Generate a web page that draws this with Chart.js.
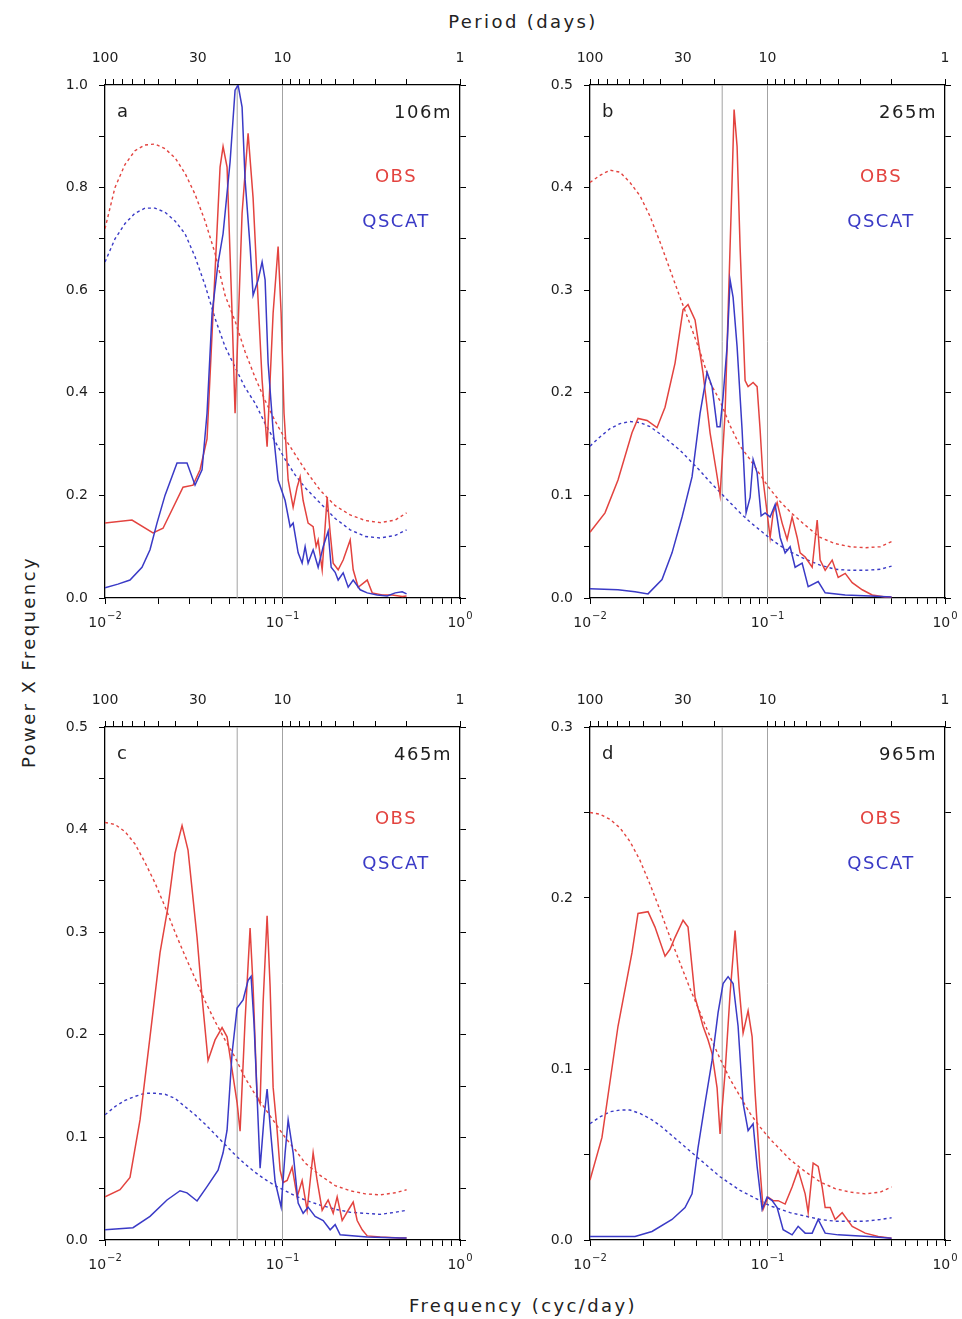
<!DOCTYPE html>
<html>
<head>
<meta charset="utf-8">
<title>Power X Frequency spectra</title>
<script src="https://cdn.jsdelivr.net/npm/chart.js@4.4.1/dist/chart.umd.min.js"></script>
<style>
  html, body { margin: 0; padding: 0; background: #fff; width: 962px; height: 1319px; overflow: hidden; }
  body { position: relative; }
  canvas { position: absolute; }
  .title {
    position: absolute; font-family: "DejaVu Sans", "Liberation Sans", sans-serif;
    font-size: 18px; letter-spacing: 2.4px; color: #222; white-space: nowrap;
    transform: translate(-50%, -50%);
  }
  #ylab { transform: translate(-50%, -50%) rotate(-90deg); }
</style>
</head>
<body>
<div class="title" style="left:523px; top:21px;">Period (days)</div>
<div class="title" style="left:523px; top:1305px;">Frequency (cyc/day)</div>
<div class="title" id="ylab" style="left:28px; top:662px;">Power X Frequency</div>

<script>
// ---- axis ticks -------------------------------------------------------------
const FREQ_TICKS = [0.01,0.02,0.03,0.04,0.05,0.06,0.07,0.08,0.09,
                    0.1,0.2,0.3,0.4,0.5,0.6,0.7,0.8,0.9,1];
const FREQ_LABEL_VALUES = [0.01, 0.1, 1];
const FREQ_LABEL_EXP    = ['\u22122', '\u22121', '0'];   // powers of ten
const PERIOD_TICKS  = [100,90,80,70,60,50,40,30,20,10,9,8,7,6,5,4,3,2,1];
const PERIOD_LABELS = [100, 30, 10, 1];
const MARK_PERIODS  = [18, 10];   // reference periods (days) shown as thin vertical lines

// ---- significance curves (dashed), shared frequency grid -------------------
const SIG_FREQ = [0.01,0.01138,0.01296,0.01476,0.0168,0.01913,0.02178,0.0248,0.02824,0.03216,
                  0.03661,0.04169,0.04747,0.05405,0.06155,0.07008,0.0798,0.09086,0.10345,0.1178,
                  0.1341,0.163,0.198,0.2406,0.2924,0.3552,0.4316,0.5];
const SIG_OBS_A = [0.72,0.80,0.845,0.872,0.883,0.885,0.876,0.858,0.828,0.787,0.735,0.672,0.59,0.54,
                   0.48,0.43,0.385,0.345,0.31,0.28,0.25,0.21,0.18,0.162,0.151,0.147,0.152,0.166];
const SIG_QS_A  = [0.655,0.70,0.73,0.75,0.76,0.76,0.752,0.735,0.71,0.665,0.61,0.545,0.49,0.45,
                   0.41,0.38,0.34,0.305,0.27,0.24,0.215,0.185,0.155,0.133,0.12,0.117,0.122,0.133];
const SIG_OBS_B = [0.405,0.412,0.417,0.415,0.405,0.392,0.372,0.347,0.32,0.293,0.267,0.24,0.21,0.192,
                   0.168,0.148,0.135,0.12,0.106,0.094,0.084,0.071,0.059,0.053,0.05,0.049,0.05,0.055];
const SIG_QS_B  = [0.148,0.157,0.165,0.17,0.172,0.171,0.167,0.16,0.152,0.144,0.134,0.124,0.113,0.103,
                   0.093,0.083,0.074,0.066,0.058,0.051,0.045,0.038,0.032,0.028,0.027,0.027,0.028,0.031];
const SIG_OBS_C = [0.407,0.405,0.398,0.386,0.368,0.348,0.325,0.30,0.277,0.255,0.233,0.213,0.195,0.178,
                   0.158,0.142,0.128,0.114,0.10,0.088,0.075,0.063,0.053,0.048,0.045,0.044,0.046,0.049];
const SIG_QS_C  = [0.122,0.13,0.136,0.14,0.143,0.143,0.142,0.138,0.13,0.122,0.113,0.103,0.093,0.083,
                   0.074,0.066,0.059,0.053,0.048,0.043,0.039,0.034,0.03,0.027,0.026,0.025,0.027,0.029];
const SIG_OBS_D = [0.25,0.249,0.246,0.241,0.233,0.222,0.208,0.193,0.177,0.162,0.147,0.133,0.119,0.106,
                   0.094,0.084,0.074,0.066,0.059,0.053,0.047,0.04,0.034,0.03,0.028,0.027,0.028,0.031];
const SIG_QS_D  = [0.068,0.072,0.075,0.076,0.076,0.074,0.071,0.067,0.062,0.057,0.052,0.047,0.042,0.037,
                   0.033,0.029,0.026,0.023,0.02,0.018,0.016,0.014,0.012,0.011,0.011,0.011,0.012,0.013];

// ---- spectra: (a) 106 m ----------------------------------------------------
const FREQ_OBS_A = [0.01,0.01419,0.01864,0.02123,0.02752,0.03134,0.03431,0.03757,0.04062,0.04449,
                    0.04626,0.04872,0.05199,0.05405,0.0592,0.064,0.06828,0.07192,0.07675,0.0819,
                    0.08853,0.09447,0.09822,0.102,0.1076,0.1148,0.1209,0.1257,0.1307,0.1394,
                    0.1488,0.1547,0.1588,0.1673,0.1785,0.1856,0.193,0.2059,0.2197,0.2406,
                    0.2502,0.2669,0.3001,0.3202,0.3645,0.4151,0.4727,0.5];
const POW_OBS_A  = [0.146,0.152,0.127,0.136,0.216,0.22,0.25,0.31,0.555,0.84,
                    0.88,0.84,0.555,0.36,0.75,0.906,0.78,0.62,0.425,0.295,
                    0.555,0.685,0.555,0.36,0.23,0.177,0.216,0.236,0.19,0.146,
                    0.139,0.10,0.113,0.055,0.197,0.127,0.068,0.055,0.074,0.113,
                    0.055,0.021,0.035,0.01,0.006,0.006,0.003,0.004];
const FREQ_QS_A  = [0.01,0.01183,0.01383,0.01616,0.01793,0.01963,0.02178,0.02545,0.02898,0.03216,
                    0.03521,0.03757,0.0401,0.04335,0.04626,0.05066,0.05405,0.0562,0.0592,0.06155,
                    0.06567,0.06828,0.07286,0.07676,0.0798,0.08297,0.08853,0.09447,0.10345,0.1104,
                    0.1148,0.1225,0.129,0.1341,0.1394,0.1488,0.1588,0.1695,0.1808,0.188,
                    0.198,0.2059,0.2197,0.2345,0.2502,0.274,0.3001,0.3417,0.389,0.4316,0.4727,0.5];
const POW_QS_A   = [0.02,0.027,0.035,0.06,0.094,0.146,0.2,0.263,0.263,0.22,
                    0.25,0.36,0.555,0.653,0.71,0.85,0.99,1.0,0.957,0.815,
                    0.685,0.59,0.62,0.655,0.62,0.458,0.327,0.23,0.19,0.139,
                    0.146,0.088,0.068,0.10,0.068,0.094,0.06,0.10,0.13,0.06,
                    0.05,0.035,0.049,0.021,0.035,0.016,0.01,0.006,0.004,0.01,0.012,0.008];

// ---- spectra: (b) 265 m ----------------------------------------------------
const FREQ_OBS_B = [0.01,0.01215,0.01438,0.01724,0.01864,0.02096,0.02385,0.02647,0.03014,0.03344,
                    0.03567,0.03907,0.04335,0.04747,0.05132,0.05405,0.05768,0.05997,0.06317,0.06483,
                    0.0674,0.07008,0.07478,0.07775,0.08297,0.08739,0.09086,0.09447,0.0995,0.10345,
                    0.1076,0.1133,0.1209,0.129,0.1376,0.1469,0.1527,0.163,0.1785,0.1905,
                    0.198,0.2113,0.2314,0.2502,0.274,0.3001,0.3417,0.389,0.4606,0.5];
const POW_OBS_B  = [0.064,0.083,0.115,0.161,0.175,0.173,0.166,0.186,0.229,0.281,
                    0.286,0.271,0.219,0.161,0.125,0.10,0.18,0.278,0.407,0.476,
                    0.44,0.342,0.212,0.206,0.21,0.206,0.164,0.115,0.083,0.059,
                    0.083,0.093,0.073,0.057,0.079,0.059,0.044,0.04,0.03,0.076,
                    0.037,0.027,0.037,0.02,0.024,0.015,0.008,0.003,0.001,0.001];
const FREQ_QS_B  = [0.01,0.01438,0.01793,0.02123,0.02545,0.02898,0.03301,0.03757,0.04169,0.04566,
                    0.04872,0.05199,0.05405,0.0562,0.0592,0.06155,0.064,0.0674,0.07192,0.07576,
                    0.0798,0.08297,0.08739,0.09205,0.09695,0.10345,0.1104,0.1178,0.1257,0.1341,
                    0.1431,0.1567,0.1695,0.193,0.2113,0.274,0.379,0.5];
const POW_QS_B   = [0.009,0.008,0.006,0.004,0.018,0.044,0.079,0.118,0.18,0.22,
                    0.206,0.167,0.167,0.196,0.245,0.31,0.293,0.245,0.164,0.083,
                    0.098,0.135,0.122,0.08,0.083,0.079,0.091,0.059,0.044,0.05,
                    0.03,0.034,0.011,0.016,0.005,0.003,0.002,0.001];

// ---- spectra: (c) 465 m ----------------------------------------------------
const FREQ_OBS_C = [0.01,0.01215,0.01383,0.01575,0.01793,0.02042,0.02265,0.0248,0.02717,0.02936,
                    0.03301,0.03521,0.03806,0.04169,0.04566,0.04872,0.05199,0.05547,0.05768,0.06155,
                    0.06567,0.06828,0.07192,0.07478,0.07775,0.0819,0.08515,0.08853,0.09325,0.09695,
                    0.1007,0.1062,0.1133,0.1209,0.129,0.1376,0.1488,0.1567,0.1673,0.1808,
                    0.193,0.2032,0.2169,0.2345,0.2502,0.2634,0.2812,0.3001,0.3552,0.4606,0.5];
const POW_OBS_C  = [0.042,0.049,0.061,0.117,0.198,0.28,0.325,0.377,0.404,0.38,
                    0.295,0.237,0.175,0.195,0.207,0.198,0.166,0.134,0.106,0.214,
                    0.304,0.247,0.14,0.133,0.231,0.316,0.247,0.149,0.107,0.068,
                    0.056,0.058,0.071,0.042,0.058,0.029,0.085,0.058,0.029,0.039,
                    0.026,0.042,0.019,0.029,0.037,0.019,0.01,0.004,0.003,0.002,0.002];
const FREQ_QS_C  = [0.01,0.01438,0.01793,0.02235,0.02647,0.02898,0.03301,0.03757,0.04335,0.04626,
                    0.04872,0.05199,0.05547,0.05997,0.064,0.06653,0.06917,0.07192,0.07478,0.07877,
                    0.0819,0.08627,0.09086,0.09822,0.10345,0.1076,0.1148,0.1225,0.1307,0.1394,
                    0.1527,0.1695,0.1856,0.198,0.2113,0.3001,0.4606,0.5];
const POW_QS_C   = [0.01,0.012,0.023,0.039,0.048,0.046,0.038,0.052,0.068,0.085,
                    0.107,0.182,0.226,0.234,0.253,0.257,0.21,0.14,0.07,0.12,
                    0.147,0.1,0.057,0.032,0.085,0.117,0.085,0.036,0.026,0.032,
                    0.023,0.019,0.01,0.015,0.005,0.003,0.002,0.002];

// ---- spectra: (d) 965 m ----------------------------------------------------
const FREQ_OBS_D = [0.01,0.01168,0.01438,0.01724,0.01864,0.02123,0.02324,0.02647,0.02824,0.03014,
                    0.03344,0.03567,0.03907,0.04335,0.04626,0.04872,0.05199,0.05405,0.05768,0.06155,
                    0.06567,0.06917,0.07286,0.07775,0.0819,0.08515,0.09086,0.09447,0.1007,0.1076,
                    0.1148,0.1257,0.1376,0.1488,0.163,0.1695,0.1808,0.193,0.2032,0.2113,
                    0.2255,0.2406,0.2634,0.3001,0.3552,0.4204,0.5];
const POW_OBS_D  = [0.035,0.06,0.125,0.168,0.191,0.192,0.183,0.166,0.17,0.177,
                    0.187,0.183,0.142,0.125,0.117,0.109,0.089,0.062,0.098,0.144,
                    0.181,0.148,0.121,0.134,0.119,0.086,0.041,0.018,0.025,0.023,
                    0.023,0.021,0.031,0.041,0.027,0.016,0.045,0.043,0.031,0.019,
                    0.019,0.012,0.016,0.008,0.004,0.002,0.001];
const FREQ_QS_D  = [0.01,0.01793,0.02235,0.02898,0.03431,0.03757,0.04062,0.04449,0.04872,0.05267,
                    0.0562,0.05997,0.064,0.06828,0.07286,0.07775,0.08297,0.08739,0.09325,0.0995,
                    0.1062,0.1133,0.1225,0.1376,0.1488,0.163,0.1785,0.193,0.2113,0.2502,0.3693,0.5];
const POW_QS_D   = [0.002,0.002,0.005,0.012,0.019,0.027,0.054,0.08,0.105,0.133,
                    0.15,0.154,0.15,0.125,0.08,0.064,0.068,0.043,0.018,0.025,
                    0.023,0.019,0.006,0.003,0.008,0.004,0.004,0.012,0.004,0.003,0.002,0.001];

// ---- styling ----------------------------------------------------------------
const FONT  = '"DejaVu Sans", "Liberation Sans", sans-serif';
const RED   = '#e3433f';
const BLUE  = '#3a3ac6';
const GRAY  = '#a3a3a3';
const INK   = '#1e1e1e';

// panel definitions: canvas box and plot-area rectangle in page pixels
const PANELS = [
  { tag: 'a', depth: '106m', yMax: 1.0, yStep: 0.1,  yLabelStep: 0.2,
    obs: [FREQ_OBS_A, POW_OBS_A], qs: [FREQ_QS_A, POW_QS_A], sigObs: SIG_OBS_A, sigQs: SIG_QS_A,
    box: { x: 15,  y: 30,  w: 462, h: 620 }, area: { l: 105, r: 460, t: 85,  b: 598 } },
  { tag: 'b', depth: '265m', yMax: 0.5, yStep: 0.05, yLabelStep: 0.1,
    obs: [FREQ_OBS_B, POW_OBS_B], qs: [FREQ_QS_B, POW_QS_B], sigObs: SIG_OBS_B, sigQs: SIG_QS_B,
    box: { x: 500, y: 30,  w: 462, h: 620 }, area: { l: 590, r: 945, t: 85,  b: 598 } },
  { tag: 'c', depth: '465m', yMax: 0.5, yStep: 0.05, yLabelStep: 0.1,
    obs: [FREQ_OBS_C, POW_OBS_C], qs: [FREQ_QS_C, POW_QS_C], sigObs: SIG_OBS_C, sigQs: SIG_QS_C,
    box: { x: 15,  y: 672, w: 462, h: 620 }, area: { l: 105, r: 460, t: 727, b: 1240 } },
  { tag: 'd', depth: '965m', yMax: 0.3, yStep: 0.05, yLabelStep: 0.1,
    obs: [FREQ_OBS_D, POW_OBS_D], qs: [FREQ_QS_D, POW_QS_D], sigObs: SIG_OBS_D, sigQs: SIG_QS_D,
    box: { x: 500, y: 672, w: 462, h: 620 }, area: { l: 590, r: 945, t: 727, b: 1240 } }
];

// panel letter, depth and series names inside the plot area
const panelText = {
  id: 'panelText',
  afterDraw(chart, args, opts) {
    const { ctx, chartArea: a } = chart;
    ctx.save();
    ctx.font = '18px ' + FONT;
    ctx.letterSpacing = '1.5px';
    ctx.textBaseline = 'alphabetic';
    ctx.fillStyle = INK;
    ctx.textAlign = 'left';
    ctx.fillText(opts.tag, a.left + 12, a.top + 32);
    ctx.textAlign = 'right';
    ctx.fillText(opts.depth, a.right - 8, a.top + 33);
    ctx.textAlign = 'center';
    ctx.fillStyle = RED;
    ctx.fillText('OBS', a.right - 64, a.top + 97);
    ctx.fillStyle = BLUE;
    ctx.fillText('QSCAT', a.right - 64, a.top + 142);
    ctx.restore();
  }
};

// frequency labels as 10 with a raised exponent, placed at the bottom scale's ticks
const powerLabels = {
  id: 'powerLabels',
  afterDraw(chart) {
    const { ctx, chartArea: a, scales } = chart;
    const sx = scales.x;
    ctx.save();
    ctx.fillStyle = INK;
    ctx.textBaseline = 'alphabetic';
    ctx.textAlign = 'left';
    FREQ_LABEL_VALUES.forEach((v, i) => {
      const px = sx.getPixelForValue(v);
      ctx.font = '14px ' + FONT;
      const wBase = ctx.measureText('10').width;
      ctx.font = '10px ' + FONT;
      const wExp = ctx.measureText(FREQ_LABEL_EXP[i]).width;
      const x0 = px - (wBase + 1 + wExp) / 2;
      ctx.font = '14px ' + FONT;
      ctx.fillText('10', x0, a.bottom + 29);
      ctx.font = '10px ' + FONT;
      ctx.fillText(FREQ_LABEL_EXP[i], x0 + wBase + 1, a.bottom + 21);
    });
    ctx.restore();
  }
};

function matchIndex(list, v) {
  return list.findIndex(u => Math.abs(v - u) <= 1e-9 * Math.max(1, Math.abs(u)));
}

function axisCommon(extra) {
  return Object.assign({
    grid:   { drawOnChartArea: false, drawTicks: true, tickLength: 6, color: '#000', tickWidth: 1 },
    border: { display: true, color: '#000', width: 1.3 }
  }, extra);
}

function buildPanel(p) {
  const cv = document.createElement('canvas');
  cv.width = p.box.w; cv.height = p.box.h;
  Object.assign(cv.style, { left: p.box.x + 'px', top: p.box.y + 'px',
                            width: p.box.w + 'px', height: p.box.h + 'px' });
  document.body.appendChild(cv);

  const leftW   = p.area.l - p.box.x;
  const rightW  = p.box.x + p.box.w - p.area.r;
  const topH    = p.area.t - p.box.y;
  const bottomH = p.box.y + p.box.h - p.area.b;

  const pts = (fs, vs) => fs.map((f, i) => ({ x: f, y: vs[i] }));
  const yTicks = [];
  for (let k = 0; k * p.yStep <= p.yMax + 1e-9; k++) yTicks.push(Math.round(k * p.yStep * 1000) / 1000);

  const datasets = [];
  MARK_PERIODS.forEach(per => datasets.push({
    data: [{ x: 1 / per, y: 0 }, { x: 1 / per, y: p.yMax }],
    borderColor: GRAY, borderWidth: 1, order: 10
  }));
  datasets.push({ data: pts(SIG_FREQ, p.sigObs), borderColor: RED,  borderWidth: 1.4, borderDash: [3, 3], order: 6 });
  datasets.push({ data: pts(SIG_FREQ, p.sigQs),  borderColor: BLUE, borderWidth: 1.4, borderDash: [3, 3], order: 5 });
  datasets.push({ data: pts(p.obs[0], p.obs[1]), borderColor: RED,  borderWidth: 1.5, order: 2 });
  datasets.push({ data: pts(p.qs[0],  p.qs[1]),  borderColor: BLUE, borderWidth: 1.5, order: 1 });

  const tickFont = { family: FONT, size: 14 };

  new Chart(cv, {
    type: 'line',
    data: { datasets },
    options: {
      responsive: false, animation: false, events: [],
      layout: { padding: 0 },
      elements: { line: { tension: 0, fill: false }, point: { radius: 0 } },
      plugins: { legend: { display: false }, tooltip: { enabled: false },
                 panelText: { tag: p.tag, depth: p.depth } },
      scales: {
        x: axisCommon({
          type: 'logarithmic', position: 'bottom', min: 0.01, max: 1,
          afterBuildTicks: s => { s.ticks = FREQ_TICKS.map(v => ({ value: v })); },
          afterFit: s => { s.height = bottomH; },
          ticks: { autoSkip: false, maxRotation: 0, minRotation: 0, font: tickFont, callback: () => '' }
        }),
        xp: axisCommon({
          type: 'logarithmic', position: 'top', min: 1, max: 100, reverse: true,
          afterBuildTicks: s => { s.ticks = PERIOD_TICKS.map(v => ({ value: v })); },
          afterFit: s => { s.height = topH; },
          ticks: { autoSkip: false, maxRotation: 0, minRotation: 0, padding: 12,
                   font: tickFont, color: INK,
                   callback: v => matchIndex(PERIOD_LABELS, v) >= 0 ? String(v) : '' }
        }),
        y: axisCommon({
          type: 'linear', position: 'left', min: 0, max: p.yMax,
          afterBuildTicks: s => { s.ticks = yTicks.map(v => ({ value: v })); },
          afterFit: s => { s.width = leftW; },
          ticks: { autoSkip: false, padding: 11, font: tickFont, color: INK,
                   callback: v => { const r = v / p.yLabelStep; return Math.abs(r - Math.round(r)) < 1e-6 ? v.toFixed(1) : ''; } }
        }),
        yr: axisCommon({
          type: 'linear', position: 'right', min: 0, max: p.yMax,
          afterBuildTicks: s => { s.ticks = yTicks.map(v => ({ value: v })); },
          afterFit: s => { s.width = rightW; },
          ticks: { display: false }
        })
      }
    },
    plugins: [panelText, powerLabels]
  });
}

PANELS.forEach(buildPanel);
</script>
</body>
</html>
